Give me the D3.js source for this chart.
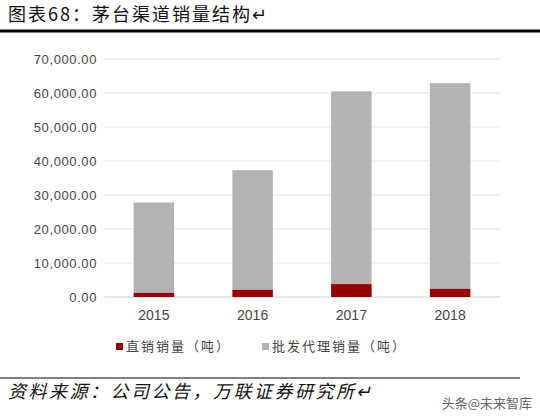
<!DOCTYPE html><html><head><meta charset="utf-8"><script src="https://d3js.org/d3.v7.min.js"></script>
<style>body{margin:0;background:#fff}svg{font-family:"Noto Sans CJK SC",sans-serif}</style></head><body><svg width="540" height="420"></svg><script>
const years=["2015","2016","2017","2018"];
const direct=[1200,2100,3800,2400];
const wholesale=[26600,35200,56700,60500];
const yTicks=[0,10000,20000,30000,40000,50000,60000,70000];
const svg=d3.select("svg");
svg.append("text").attr("x",8).attr("y",21).attr("font-size",18).attr("letter-spacing",2).attr("fill","#111").text("图表68：茅台渠道销量结构↵");
svg.append("line").attr("x1",0).attr("x2",540).attr("y1",31).attr("y2",31).attr("stroke","#000").attr("stroke-width",3);
const x=d3.scaleBand().domain(years).range([104,500]).paddingInner(0.59).paddingOuter(0.3);
const y=d3.scaleLinear().domain([0,70000]).range([297,59]);
const fmt=d3.format(",.2f");
yTicks.forEach(t=>{
 svg.append("line").attr("x1",104).attr("x2",500).attr("y1",y(t)).attr("y2",y(t)).attr("stroke",t===0?"#ccc":"#e6e6e6");
 svg.append("text").attr("x",97).attr("y",y(t)+5).attr("text-anchor","end").attr("font-size",13).attr("letter-spacing",0.6).attr("font-family","Liberation Sans, Arial").attr("fill","#444").text((t===0?"0.00":fmt(t)));
});
years.forEach((yr,i)=>{
 svg.append("rect").attr("x",x(yr)).attr("width",x.bandwidth()).attr("y",y(direct[i]+wholesale[i])).attr("height",y(direct[i])-y(direct[i]+wholesale[i])).attr("fill","#b3b3b3");
 svg.append("rect").attr("x",x(yr)).attr("width",x.bandwidth()).attr("y",y(direct[i])).attr("height",y(0)-y(direct[i])).attr("fill","#990000");
 svg.append("text").attr("x",x(yr)+x.bandwidth()/2).attr("y",320).attr("text-anchor","middle").attr("font-size",14).attr("font-family","Liberation Sans, Arial").attr("fill","#444").text(yr);
});
const leg=[["直销销量（吨）","#990000",116],["批发代理销量（吨）","#b3b3b3",262]];
leg.forEach(([t,c,lx])=>{
 svg.append("rect").attr("x",lx).attr("y",343).attr("width",7).attr("height",7).attr("fill",c);
 svg.append("text").attr("x",lx+10).attr("y",351).attr("font-size",13).attr("letter-spacing",2).attr("fill","#444").text(t);
});
svg.append("line").attr("x1",0).attr("x2",520).attr("y1",378).attr("y2",378).attr("stroke","#000").attr("stroke-width",1);
svg.append("text").attr("x",8).attr("y",398).attr("font-size",18).attr("letter-spacing",2.5).attr("font-style","italic").attr("fill","#111").text("资料来源：公司公告，万联证券研究所↵");
svg.append("text").attr("x",532).attr("y",408).attr("text-anchor","end").attr("font-size",13).attr("fill","#666").text("头条@未来智库");
</script></body></html>
